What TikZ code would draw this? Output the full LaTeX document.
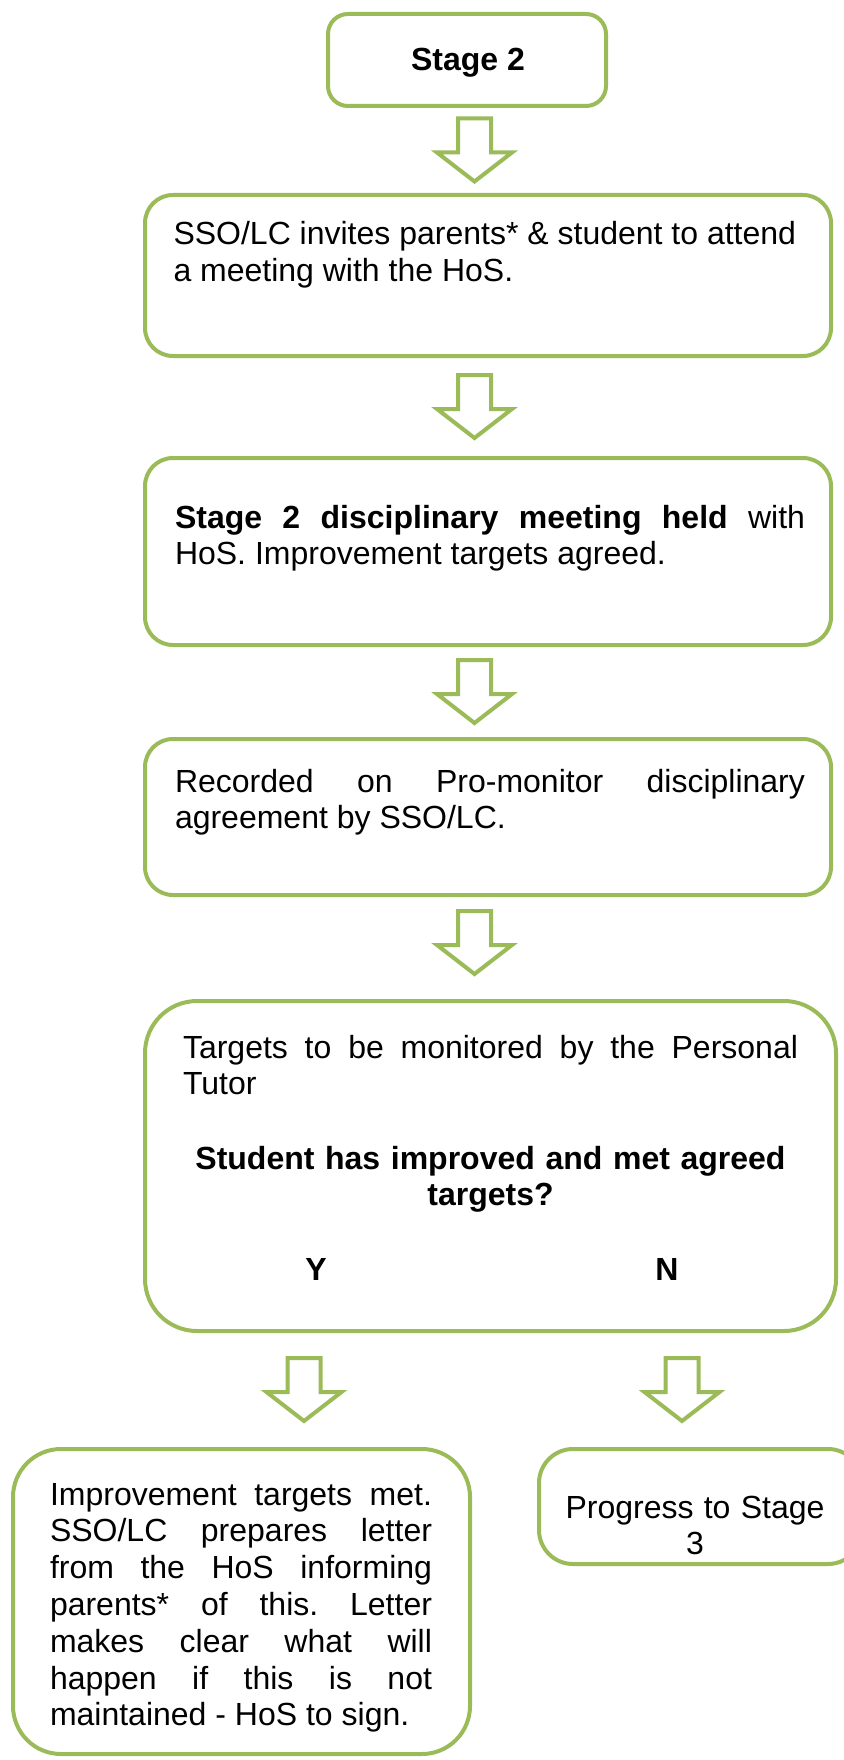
\documentclass[tikz,border=0pt]{standalone}
\usepackage{fontspec}
\setmainfont{Liberation Sans}
\usetikzlibrary{calc}
\definecolor{boxgreen}{HTML}{9BBB59}
\frenchspacing
% a line stretched to a fixed width (justified, equal extra space between words)
\newcommand{\jl}[2]{\makebox[#1][s]{\spaceskip=0.278em plus 1fil\xspaceskip=\spaceskip #2}}
% plain word spacing and a first-line strut so every text block starts at the same height
\newcommand{\topstrut}{\spaceskip=0pt\xspaceskip=0pt\rule{0pt}{26pt}}
\tikzset{
  stagebox/.style={draw=boxgreen, line width=4pt, fill=white, inner sep=0pt, outer sep=0pt},
  body/.style={inner sep=0pt, outer sep=0pt, font=\fontsize{32}{36.8}\selectfont},
  boldbody/.style={body, font=\fontsize{32}{36.8}\selectfont\bfseries},
  arrowline/.style={draw=boxgreen, line width=4pt, fill=white, line join=miter},
  downarrow/.pic={
    \path[arrowline] (-16.5,-32) -- (16.5,-32) -- (16.5,2) -- (37.5,2)
      -- (0,31) -- (-37.5,2) -- (-16.5,2) -- cycle;
  }
}
\begin{document}
\begin{tikzpicture}[x=1pt,y=-1pt]
\useasboundingbox (0,0) rectangle (843,1760);

% boxes
\node[stagebox, rounded corners=20pt, minimum width=278pt, minimum height=92pt] (b1) at (467,60) {};
\node[stagebox, rounded corners=28pt, minimum width=686pt, minimum height=161pt] (b2) at (488,275.5) {};
\node[stagebox, rounded corners=28pt, minimum width=686pt, minimum height=187pt] (b3) at (488,551.5) {};
\node[stagebox, rounded corners=28pt, minimum width=686pt, minimum height=156pt] (b4) at (488,817) {};
\node[stagebox, rounded corners=52pt, minimum width=691pt, minimum height=330pt] (b5) at (490.5,1166) {};
\node[stagebox, rounded corners=48pt, minimum width=457pt, minimum height=305pt] (b6) at (241.5,1601.5) {};
\node[stagebox, rounded corners=34pt, minimum width=323pt, minimum height=115pt] (b7) at (700.5,1506.5) {};

% texts
\node[boldbody, anchor=base] (t1) at ($(b1.center)+(1,11)$) {Stage 2};

\node[body, anchor=north west, text width=640pt, align=left] (t2) at ($(b2.north west)+(28.5,24)$)
  {\topstrut SSO/LC invites parents* \& student to attend\\a meeting with the HoS.};

\node[body, anchor=north west, text width=630pt, align=left] (t3) at ($(b3.north west)+(30,44)$)
  {\topstrut\jl{630pt}{\textbf{Stage 2 disciplinary meeting held} with}\\HoS. Improvement targets agreed.};

\node[body, anchor=north west, text width=630pt, align=left] (t4) at ($(b4.north west)+(30,27)$)
  {\topstrut\jl{630pt}{Recorded on Pro-monitor disciplinary}\\agreement by SSO/LC.};

\node[body, anchor=north west, text width=615pt, align=left] (t5) at ($(b5.north west)+(38,31)$)
  {\topstrut\jl{615pt}{Targets to be monitored by the Personal}\\Tutor};
\node[boldbody, anchor=north, text width=640pt, align=center] (t5q) at ($(b5.north)+(0,142)$)
  {\topstrut Student has improved and met agreed\\targets?};
\node[boldbody, anchor=base] (yes) at ($(b5.center)+(-174.5,114)$) {Y};
\node[boldbody, anchor=base] (no) at ($(b5.center)+(176.5,114)$) {N};

\node[body, anchor=north west, text width=382pt, align=left] (t6) at ($(b6.north west)+(37,30)$)
  {\topstrut\jl{382pt}{Improvement targets met.}\\
   \jl{382pt}{SSO/LC prepares letter}\\
   \jl{382pt}{from the HoS informing}\\
   \jl{382pt}{parents* of this. Letter}\\
   \jl{382pt}{makes clear what will}\\
   \jl{382pt}{happen if this is not}\\
   maintained - HoS to sign.};

\node[body, anchor=north, text width=300pt, align=center] (t7) at ($(b7.north)+(-5.5,43)$)
  {\topstrut Progress to Stage\\3};

% block arrows between the stages
\coordinate (axis) at (474.5,0);
\coordinate (laxis) at (304,0);
\coordinate (raxis) at (682,0);
\path ($(b1.south)!0.5!(b2.north)$) coordinate (m1);
\path ($(b2.south)!0.5!(b3.north)$) coordinate (m2);
\path ($(b3.south)!0.5!(b4.north)$) coordinate (m3);
\path ($(b4.south)!0.5!(b5.north)$) coordinate (m4);
\path ($(b5.south)!0.5!(b6.north)$) coordinate (m5);
\path ($(b5.south)!0.5!(b7.north)$) coordinate (m6);
\pic at (m1 -| axis) {downarrow};
\pic at (m2 -| axis) {downarrow};
\pic at (m3 -| axis) {downarrow};
\pic[yshift=5pt] at (m4 -| axis) {downarrow};
\pic at (m5 -| laxis) {downarrow};
\pic at (m6 -| raxis) {downarrow};
\end{tikzpicture}
\end{document}
